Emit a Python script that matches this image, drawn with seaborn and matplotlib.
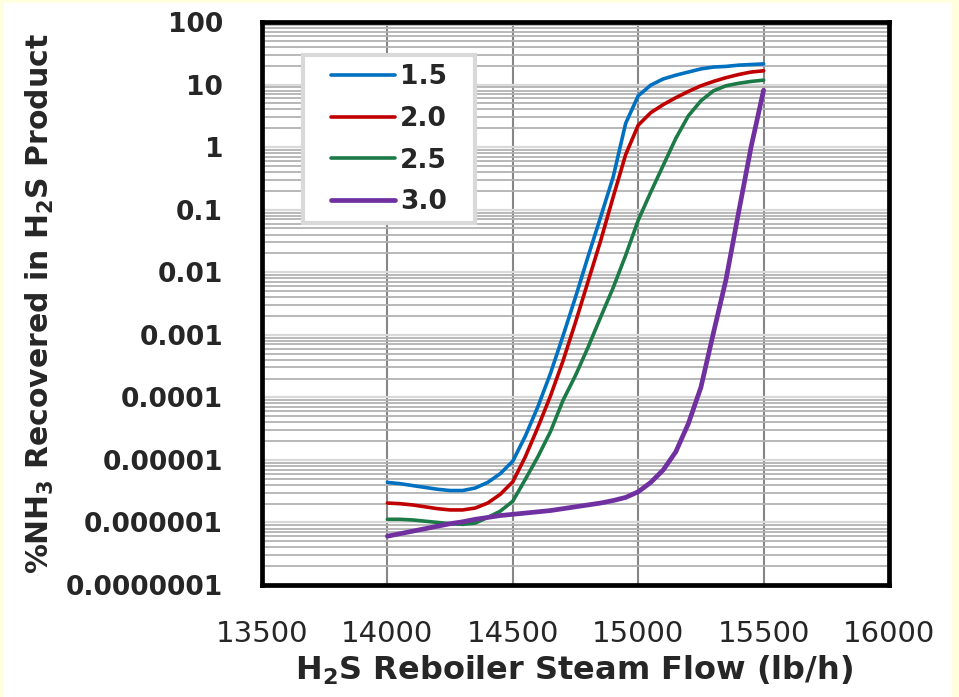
import numpy as np
import pandas as pd
import matplotlib
matplotlib.use("Agg")
import matplotlib.pyplot as plt
from matplotlib.patches import Rectangle
from matplotlib.ticker import FixedLocator, FixedFormatter, LogLocator, NullFormatter
import seaborn as sns

# H2S reboiler steam flow (lb/h)
steam_flow = [14000, 14050, 14100, 14150, 14200, 14250, 14300, 14350, 14400, 14450,
              14500, 14550, 14600, 14650, 14700, 14750, 14800, 14850, 14900, 14950,
              15000, 15050, 15100, 15150, 15200, 15250, 15300, 15350, 15400, 15450,
              15500]

series_labels = ["1.5", "2.0", "2.5", "3.0"]

# log10 of % NH3 recovered in the H2S product, one list per series
log_pct_15 = [-5.36, -5.38, -5.41, -5.44, -5.47, -5.49, -5.49, -5.45, -5.36, -5.22,
              -5.02, -4.62, -4.15, -3.62, -3.02, -2.40, -1.75, -1.12, -0.48, 0.38,
              0.82, 0.99, 1.09, 1.15, 1.20, 1.25, 1.28, 1.29, 1.31, 1.32,
              1.33]
log_pct_20 = [-5.69, -5.70, -5.72, -5.75, -5.78, -5.80, -5.80, -5.77, -5.69, -5.55,
              -5.35, -4.95, -4.48, -3.98, -3.42, -2.80, -2.15, -1.50, -0.80, -0.12,
              0.35, 0.55, 0.68, 0.79, 0.89, 0.98, 1.05, 1.11, 1.16, 1.20,
              1.22]
log_pct_25 = [-5.95, -5.95, -5.96, -5.98, -6.00, -6.02, -6.03, -6.01, -5.92, -5.82,
              -5.66, -5.31, -4.95, -4.55, -4.05, -3.65, -3.20, -2.72, -2.25, -1.73,
              -1.17, -0.72, -0.29, 0.14, 0.50, 0.74, 0.90, 0.98, 1.02, 1.05,
              1.07]
log_pct_30 = [-6.22, -6.18, -6.14, -6.10, -6.06, -6.02, -5.99, -5.95, -5.92, -5.89,
              -5.87, -5.85, -5.83, -5.81, -5.78, -5.75, -5.72, -5.69, -5.65, -5.60,
              -5.51, -5.36, -5.16, -4.87, -4.42, -3.84, -2.97, -2.12, -1.05, 0.00,
              0.91]

series_colors = ["#0070C0", "#C00000", "#1B7A46", "#7030A0"]
series_widths = [2.6, 2.6, 2.6, 3.4]

y_ticks = [100, 10, 1, 0.1, 0.01, 0.001, 0.0001, 0.00001, 0.000001, 0.0000001]
y_tick_labels = ["100", "10", "1", "0.1", "0.01", "0.001", "0.0001",
                 "0.00001", "0.000001", "0.0000001"]
x_ticks = [13500, 14000, 14500, 15000, 15500, 16000]
x_tick_labels = ["13500", "14000", "14500", "15000", "15500", "16000"]

frames = []
for label, logs in zip(series_labels, [log_pct_15, log_pct_20, log_pct_25, log_pct_30]):
    frames.append(pd.DataFrame({"steam": steam_flow,
                                "pct": np.power(10.0, np.array(logs)),
                                "ratio": label}))
df = pd.concat(frames, ignore_index=True)

sns.set_style("white")
plt.rcParams["font.family"] = ["DejaVu Sans"]
plt.rcParams["mathtext.fontset"] = "custom"
plt.rcParams["mathtext.bf"] = "DejaVu Sans:bold"
plt.rcParams["mathtext.rm"] = "DejaVu Sans:bold"
plt.rcParams["mathtext.default"] = "bf"

fig = plt.figure(figsize=(9.59, 6.97), dpi=100, facecolor="#FFFFE0")
fig.add_artist(Rectangle((4 / 959, 0), 948 / 959, 694 / 697,
                         transform=fig.transFigure, facecolor="white",
                         edgecolor="none", zorder=-10))
ax = fig.add_axes([262 / 959, 1 - 585 / 697, 627 / 959, 563 / 697])
ax.set_facecolor("white")

for label, color, lw in zip(series_labels, series_colors, series_widths):
    sns.lineplot(data=df[df["ratio"] == label], x="steam", y="pct",
                 color=color, linewidth=lw, label=label, ax=ax)

ax.set_yscale("log")
ax.set_ylim(1e-7, 100)
ax.set_xlim(13500, 16000)

ax.yaxis.set_major_locator(FixedLocator(y_ticks))
ax.yaxis.set_major_formatter(FixedFormatter(y_tick_labels))
ax.yaxis.set_minor_locator(LogLocator(base=10, subs=range(2, 10), numticks=20))
ax.yaxis.set_minor_formatter(NullFormatter())
ax.xaxis.set_major_locator(FixedLocator(x_ticks))
ax.xaxis.set_major_formatter(FixedFormatter(x_tick_labels))

ax.set_axisbelow(True)
ax.grid(which="major", axis="x", color="#868686", linewidth=1.5)
ax.grid(which="major", axis="y", color="#D9D9D9", linewidth=1.6)
ax.grid(which="minor", axis="y", color="#B2B2B2", linewidth=1.3)

ax.tick_params(axis="y", which="major", direction="in", length=6, width=3.5,
               color="black", pad=28, labelsize=19)
ax.tick_params(axis="x", which="major", direction="in", length=6, width=3.5,
               color="black", pad=25, labelsize=21)
ax.tick_params(which="minor", length=0)
for t in ax.get_yticklabels():
    t.set_fontweight("bold")

for side in ["left", "right", "top", "bottom"]:
    ax.spines[side].set_visible(True)
    ax.spines[side].set_color("black")
    ax.spines[side].set_linewidth(3.4)

ax.set_xlabel("")
ax.set_ylabel("")

# legend box
ax.add_patch(Rectangle((0.0654, 0.643), 0.2743, 0.2984, transform=ax.transAxes,
                       facecolor="white", edgecolor="#D9D9D9", linewidth=3,
                       zorder=4))
leg = ax.legend(loc="center left", bbox_to_anchor=(0.110, 0.791), frameon=False,
                prop={"size": 19, "weight": "bold"}, handlelength=2.42,
                handletextpad=0.2, labelspacing=0.6, borderpad=0,
                borderaxespad=0)
leg.set_zorder(5)

fig.text(40 / 959, 1 - 304 / 697, "%NH$_3$ Recovered in H$_2$S Product",
         rotation=90, ha="center", va="center", fontsize=21.5, fontweight="bold")
fig.text(574 / 959, 1 - 670 / 697, "H$_2$S Reboiler Steam Flow (lb/h)",
         ha="center", va="center", fontsize=23, fontweight="bold")

fig.savefig("out.png", dpi=100, facecolor=fig.get_facecolor())
